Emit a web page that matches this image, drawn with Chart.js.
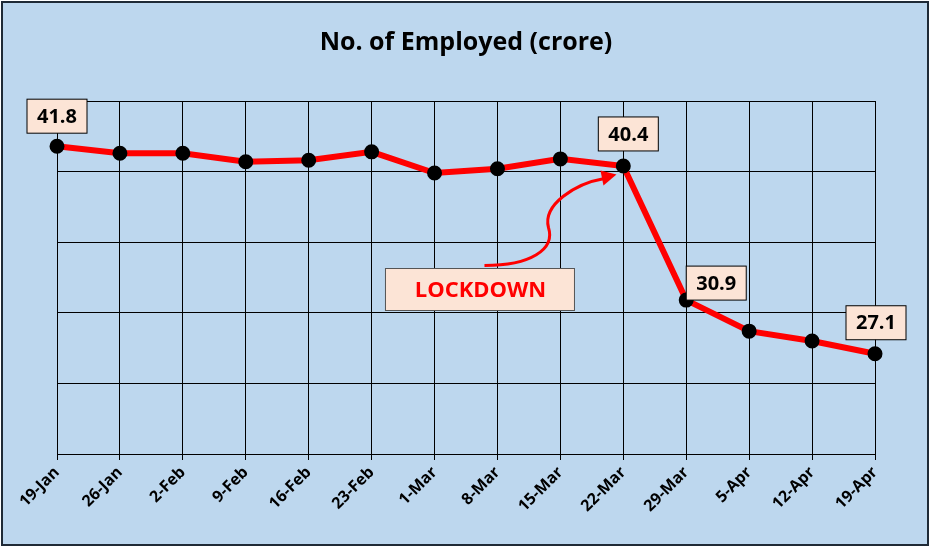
<!DOCTYPE html>
<html>
<head>
<meta charset="utf-8">
<script src="https://cdn.jsdelivr.net/npm/chart.js@4"></script>
<style>
  html, body { margin: 0; padding: 0; background: #fff; }
  #wrap { position: absolute; left: 1px; top: 1px; width: 924px; height: 541px;
          border: 2px solid #1f2a36; background: #bdd7ee; }
  canvas { display: block; }
</style>
</head>
<body>
<div id="wrap"><canvas id="chart" width="924" height="541"></canvas></div>
<script>
const labels = ['19-Jan', '26-Jan', '2-Feb', '9-Feb', '16-Feb', '23-Feb', '1-Mar',
  '8-Mar', '15-Mar', '22-Mar', '29-Mar', '5-Apr', '12-Apr', '19-Apr'];
const employed = [41.8, 41.3, 41.3, 40.7, 40.8, 41.4, 39.9, 40.2, 40.9, 40.4, 30.9, 28.7, 28.0, 27.1];
// which points get a value box, and where the box sits relative to the point
const callouts = [
  { i: 0, dx: 0, dy: -30 },
  { i: 9, dx: 5, dy: -32 },
  { i: 10, dx: 30, dy: -17 },
  { i: 13, dx: 1, dy: -31 }
];

// title, value boxes and the lockdown note
const extras = {
  id: 'extras',
  afterDatasetsDraw(chart) {
    const ctx = chart.ctx;
    const x = chart.scales.x, y = chart.scales.y;
    ctx.save();
    ctx.fillStyle = '#000';
    ctx.font = 'bold 25px "Open Sans", sans-serif';
    ctx.textAlign = 'center';
    ctx.textBaseline = 'middle';
    ctx.fillText('No. of Employed (crore)', 463, 40);

    ctx.font = 'bold 20px "Open Sans", sans-serif';
    callouts.forEach(c => {
      const px = x.getPixelForValue(c.i) + c.dx;
      const py = y.getPixelForValue(employed[c.i]) + c.dy;
      ctx.fillStyle = '#fce4d6';
      ctx.fillRect(px - 30, py - 17, 60, 34);
      ctx.strokeStyle = '#000';
      ctx.lineWidth = 1;
      ctx.strokeRect(px - 30, py - 17, 60, 34);
      ctx.fillStyle = '#000';
      ctx.fillText(employed[c.i].toFixed(1), px, py + 1);
    });

    // lockdown box
    const lx = x.getPixelForValue(6.73);
    const ly = y.getPixelForValue(31.65);
    ctx.fillStyle = '#fce4d6';
    ctx.fillRect(lx - 95, ly - 21, 189, 42);
    ctx.strokeStyle = '#555';
    ctx.strokeRect(lx - 95, ly - 21, 189, 42);
    ctx.fillStyle = '#ff0000';
    ctx.font = 'bold 22px "Open Sans", sans-serif';
    ctx.fillText('LOCKDOWN', lx, ly + 1);

    // curved arrow toward 22-Mar
    ctx.strokeStyle = '#ff0000';
    ctx.lineWidth = 3;
    ctx.beginPath();
    ctx.moveTo(lx + 4, ly - 24);
    ctx.bezierCurveTo(lx + 50, ly - 24, lx + 75, ly - 40, lx + 68, ly - 62);
    ctx.bezierCurveTo(lx + 62, ly - 85, lx + 95, ly - 106, lx + 124, ly - 111);
    ctx.stroke();
    ctx.fillStyle = '#ff0000';
    ctx.beginPath();
    ctx.moveTo(lx + 136, ly - 115);
    ctx.lineTo(lx + 120, ly - 119);
    ctx.lineTo(lx + 123, ly - 104);
    ctx.closePath();
    ctx.fill();
    ctx.restore();
  }
};

new Chart(document.getElementById('chart'), {
  type: 'line',
  data: {
    labels: labels,
    datasets: [{
      data: employed,
      borderColor: '#ff0000',
      borderWidth: 6,
      pointBackgroundColor: '#000',
      pointBorderColor: '#000',
      pointRadius: 4.5,
      tension: 0
    }]
  },
  options: {
    responsive: false,
    animation: false,
    layout: { padding: { left: 54, right: 52, top: 98, bottom: 4 } },
    plugins: { legend: { display: false }, tooltip: { enabled: false } },
    scales: {
      x: {
        offset: false,
        grid: { color: '#000', lineWidth: 1, drawTicks: true, tickLength: 6 },
        border: { color: '#000' },
        ticks: { color: '#000', font: { family: '"Open Sans", sans-serif', weight: 'bold', size: 16 },
                 minRotation: 45, maxRotation: 45, autoSkip: false },
        afterFit(s) { s.height = 86; }
      },
      y: {
        min: 20, max: 45,
        ticks: { display: false, stepSize: 5 },
        grid: { color: '#000', lineWidth: 1, drawTicks: false },
        border: { display: false },
        afterFit(s) { s.width = 0; }
      }
    }
  },
  plugins: [extras]
});
</script>
</body>
</html>
